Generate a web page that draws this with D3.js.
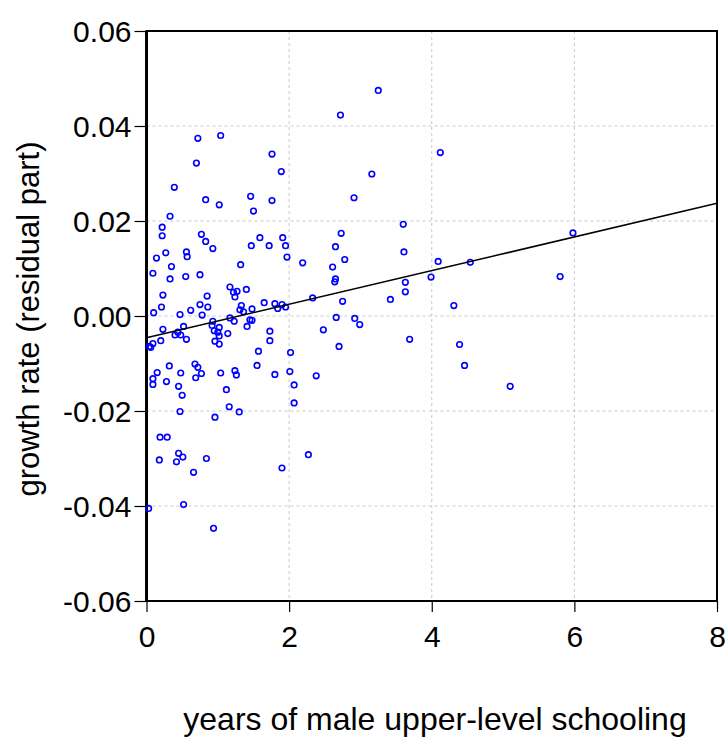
<!DOCTYPE html>
<html lang="en">
<head>
  <meta charset="utf-8">
  <script src="https://d3js.org/d3.v7.min.js"></script>
  <style>
    body { margin: 0; background: #fff; }
    svg text { font-family: "Liberation Sans", Arial, Helvetica, sans-serif; fill: #000; }
  </style>
</head>
<body>
  <div id="chart"></div>
  <script>
    // schooling years (x) and residual growth rate (y)
    var schooling = [
      3.25, 2.72, 4.12, 3.16, 2.91, 3.60, 2.73, 5.98, 2.65, 3.61,
      2.78, 4.09, 4.54, 2.61, 2.65, 2.64, 5.80, 3.63, 3.99, 3.63,
      3.42, 2.75, 4.31, 2.66, 2.92, 2.99, 2.48, 3.69, 2.70, 4.39,
      4.46, 5.10, 0.72, 1.04, 1.76, 0.70, 1.89, 0.39, 0.83, 1.02,
      1.46, 1.76, 1.50, 0.33, 0.22, 0.22, 0.77, 0.83, 0.93, 0.27,
      0.14, 0.56, 0.57, 0.35, 0.09, 0.33, 0.55, 0.75, 1.32, 1.47,
      1.59, 1.72, 1.91, 1.95, 1.97, 2.19, 2.33, 1.17, 1.22, 1.27,
      1.24, 1.40, 0.85, 0.23, 0.21, 0.10, 0.62, 0.75, 0.86, 0.78,
      0.47, 1.33, 1.31, 1.36, 1.48, 1.65, 1.80, 1.84, 1.90, 1.95,
      1.17, 1.23, 1.45, 1.48, 1.41, 0.93, 0.92, 1.02, 0.95, 1.00,
      1.02, 0.96, 1.02, 1.14, 0.52, 0.23, 0.44, 0.40, 0.48, 0.56,
      0.20, 0.09, 0.04, 0.06, 1.73, 1.73, 1.57, 2.02, 1.55, 1.80,
      2.01, 2.07, 2.38, 0.32, 0.68, 0.72, 0.77, 0.69, 0.48, 0.15,
      0.09, 0.09, 0.28, 0.45, 0.50, 1.04, 1.24, 1.26, 1.12, 2.07,
      1.16, 1.30, 0.96, 0.47, 0.19, 0.29, 0.45, 0.51, 0.42, 0.18,
      0.84, 0.66, 1.90, 2.27, 0.03, 0.52, 0.94
    ];
    var growth = [
      0.0475, 0.0423, 0.0344, 0.0299, 0.0249, 0.0193, 0.0174, 0.0175, 0.0146, 0.0135,
      0.0119, 0.0115, 0.0113, 0.0103, 0.0078, 0.0072, 0.0083, 0.0071, 0.0082, 0.0051,
      0.0035, 0.0031, 0.0022, -0.0003, -0.0005, -0.0018, -0.0029, -0.0049, -0.0064, -0.0060,
      -0.0104, -0.0148, 0.0374, 0.0380, 0.0341, 0.0322, 0.0304, 0.0271, 0.0245, 0.0234,
      0.0252, 0.0243, 0.0221, 0.0210, 0.0187, 0.0169, 0.0172, 0.0157, 0.0142, 0.0133,
      0.0122, 0.0135, 0.0125, 0.0104, 0.0090, 0.0078, 0.0083, 0.0087, 0.0108, 0.0148,
      0.0165, 0.0148, 0.0165, 0.0148, 0.0124, 0.0112, 0.0038, 0.0061, 0.0050, 0.0052,
      0.0040, 0.0056, 0.0042, 0.0044, 0.0019, 0.0007, 0.0012, 0.0024, 0.0019, 0.0002,
      0.0003, 0.0022, 0.0013, 0.0009, 0.0015, 0.0028, 0.0026, 0.0016, 0.0024, 0.0019,
      -0.0004, -0.0011, -0.0008, -0.0009, -0.0022, -0.0011, -0.0020, -0.0024, -0.0031, -0.0034,
      -0.0042, -0.0053, -0.0059, -0.0037, -0.0022, -0.0028, -0.0034, -0.0040, -0.0040, -0.0049,
      -0.0052, -0.0058, -0.0064, -0.0066, -0.0032, -0.0052, -0.0074, -0.0077, -0.0104, -0.0123,
      -0.0117, -0.0145, -0.0126, -0.0105, -0.0101, -0.0108, -0.0121, -0.0130, -0.0120, -0.0119,
      -0.0132, -0.0144, -0.0138, -0.0148, -0.0167, -0.0120, -0.0115, -0.0124, -0.0155, -0.0183,
      -0.0191, -0.0202, -0.0213, -0.0201, -0.0255, -0.0255, -0.0289, -0.0297, -0.0307, -0.0303,
      -0.0300, -0.0329, -0.0320, -0.0292, -0.0405, -0.0397, -0.0447
    ];

    // fitted line
    var fitIntercept = -0.0046;
    var fitSlope = 0.00354;

    var xTicks = [0, 2, 4, 6, 8];
    var yTicks = [0.06, 0.04, 0.02, 0.00, -0.02, -0.04, -0.06];

    var width = 726;
    var height = 740;
    var margin = { top: 31, right: 9, bottom: 139, left: 146.5 };
    var w = width - margin.left - margin.right;
    var h = height - margin.top - margin.bottom;

    var svg = d3.select('#chart')
      .append('svg')
      .attr('width', width)
      .attr('height', height);

    var g = svg.append('g')
      .attr('transform', 'translate(' + margin.left + ',' + margin.top + ')');

    var x = d3.scaleLinear().domain([0, 8]).range([0, w]);
    var y = d3.scaleLinear().domain([-0.06, 0.06]).range([h, 0]);

    // dashed grid
    g.selectAll('.vgrid')
      .data(xTicks.slice(1, -1))
      .enter().append('line')
      .attr('x1', function (d) { return x(d); })
      .attr('x2', function (d) { return x(d); })
      .attr('y1', 0).attr('y2', h)
      .attr('stroke', '#c8c8c8')
      .attr('stroke-dasharray', '3,3');

    g.selectAll('.hgrid')
      .data(yTicks.slice(1, -1))
      .enter().append('line')
      .attr('y1', function (d) { return y(d); })
      .attr('y2', function (d) { return y(d); })
      .attr('x1', 0).attr('x2', w)
      .attr('stroke', '#c8c8c8')
      .attr('stroke-dasharray', '3,3');

    // axes
    var xAxis = g.append('g')
      .attr('transform', 'translate(0,' + h + ')')
      .call(d3.axisBottom(x).tickValues(xTicks).tickSize(11).tickPadding(14).tickFormat(d3.format('d')));
    var yAxis = g.append('g')
      .call(d3.axisLeft(y).tickValues(yTicks).tickSize(12).tickPadding(3)
        .tickFormat(function (d) { return d3.format('.2f')(d).replace('\u2212', '-'); }));

    [xAxis, yAxis].forEach(function (a) {
      a.select('.domain').remove();
      a.selectAll('line').attr('stroke', '#000').attr('stroke-width', 1.2);
      a.selectAll('text').style('font-size', '30px');
    });
    yAxis.selectAll('text').attr('dy', '0.35em');
    xAxis.selectAll('text').attr('dy', '0.71em');

    // frame
    g.append('rect')
      .attr('x', 0).attr('y', 0)
      .attr('width', w).attr('height', h)
      .attr('fill', 'none')
      .attr('stroke', '#000')
      .attr('stroke-width', 2);
    g.append('line')
      .attr('x1', 0).attr('x2', 0)
      .attr('y1', 0).attr('y2', h)
      .attr('stroke', '#000')
      .attr('stroke-width', 3);

    // points
    var points = schooling.map(function (s, i) { return { s: s, r: growth[i] }; });
    g.selectAll('circle')
      .data(points)
      .enter().append('circle')
      .attr('cx', function (d) { return x(d.s); })
      .attr('cy', function (d) { return y(d.r); })
      .attr('r', 2.8)
      .attr('fill', 'none')
      .attr('stroke', '#0000ff')
      .attr('stroke-width', 1.6);

    // fitted line
    g.append('line')
      .attr('x1', x(0)).attr('y1', y(fitIntercept))
      .attr('x2', x(8)).attr('y2', y(fitIntercept + fitSlope * 8))
      .attr('stroke', '#000')
      .attr('stroke-width', 1.5);

    // titles
    svg.append('text')
      .attr('x', 435)
      .attr('y', 730)
      .attr('text-anchor', 'middle')
      .style('font-size', '32px')
      .text('years of male upper-level schooling');

    svg.append('text')
      .attr('transform', 'translate(39,' + (margin.top + h / 2 + 3) + ') rotate(-90)')
      .attr('text-anchor', 'middle')
      .style('font-size', '31px')
      .text('growth rate (residual part)');
  </script>
</body>
</html>
